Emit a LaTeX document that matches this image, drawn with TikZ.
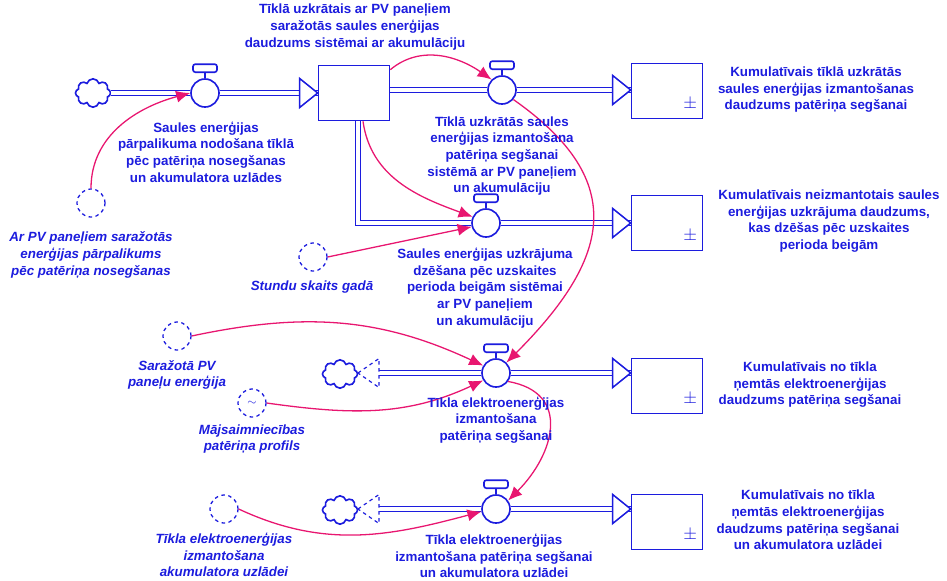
\documentclass[tikz,border=0pt]{standalone}
\usepackage{fontspec}
\setmainfont{Liberation Sans}
\usetikzlibrary{shapes.geometric, shapes.symbols, arrows.meta}
\usetikzlibrary{calc}
\definecolor{flowblue}{RGB}{28,28,222}
\definecolor{linkpink}{RGB}{232,22,112}
\newcommand{\lblsize}{\fontsize{11.4}{14.2}\selectfont}
\tikzstyle{stock} = [rectangle, minimum width=2.13cm, minimum height=1.65cm, draw=flowblue, line width=1.4pt, fill=white]
\tikzstyle{valve} = [circle, minimum size=0.84cm, inner sep=0pt, draw=flowblue, line width=1.4pt, fill=white]
\tikzstyle{aux} = [circle, minimum size=0.84cm, inner sep=0pt, draw=flowblue, line width=1.1pt, dashed, text=flowblue]
\tikzstyle{source} = [cloud, cloud puffs=8, aspect=1.4, minimum width=1.05cm, minimum height=0.85cm, inner sep=0pt, draw=flowblue, line width=1.4pt, fill=white]
\tikzstyle{flowlabel} = [text=flowblue, font=\bfseries\lblsize, align=center]
\tikzstyle{auxlabel} = [text=flowblue, font=\bfseries\itshape\lblsize, align=center]
\tikzstyle{pipe} = [draw=flowblue, line width=1.3pt, double=white, double distance=2.8pt]
\tikzstyle{head} = [draw=flowblue, line width=1.3pt, fill=white, line join=miter]
\tikzstyle{link} = [draw=linkpink, line width=1.1pt, -{Latex[length=4.2mm, width=3.6mm]}]

\begin{document}
\begin{tikzpicture}[x=0.03cm, y=-0.03cm]
        \useasboundingbox (0,0) rectangle (947,580);

        % stocks
        \node(s1) [stock] at (354, 93) {};
        \node(s2) [stock] at (667, 91) {};
        \node(s3) [stock] at (667, 223) {};
        \node(s4) [stock] at (667, 386) {};
        \node(s5) [stock] at (667, 522) {};
        \foreach \s in {s2, s3, s4, s5}
            \node(pm\s) [text=flowblue, scale=1.5] at ($(\s.south east)+(-13,-15)$) {$\pm$};

        % valves and clouds
        \node(v1) [valve] at (205, 93) {};
        \node(v2) [valve] at (502, 90) {};
        \node(v3) [valve] at (486, 223) {};
        \node(v4) [valve] at (496, 373) {};
        \node(v5) [valve] at (496, 509) {};
        \node(c1) [source] at (93, 93) {};
        \node(c4) [source] at (340, 374) {};
        \node(c5) [source] at (340, 510) {};

        % auxiliaries
        \node(a1) [aux] at (91, 203) {};
        \node(a2) [aux] at (313, 257) {};
        \node(a3) [aux] at (177, 336) {};
        \node(a4) [aux] at (252, 403) {$\sim$};
        \node(a5) [aux] at (224, 509) {};

        % pipes
        \coordinate(h1) at (s1.west);
        \coordinate(h2) at (s2.west |- v2);
        \coordinate(h3) at (s3.west |- v3);
        \coordinate(h4) at (s4.west |- v4);
        \coordinate(h5) at (s5.west |- v5);
        \coordinate(t4) at (358, 373);
        \coordinate(t5) at (358, 509);

        \draw[pipe] (c1) -- (v1);
        \draw[pipe] (v1) -- (h1);
        \draw[pipe] (s1.east |- v2) -- (v2);
        \draw[pipe] (v2) -- (h2);
        \draw[pipe] ($(s1.south)+(4,0)$) |- (v3);
        \draw[pipe] (v3) -- (h3);
        \draw[pipe] (v4) -- (h4);
        \draw[pipe] (v5) -- (h5);
        \draw[pipe] (v4) -- ($(t4)+(21,0)$);
        \draw[pipe] (v5) -- ($(t5)+(21,0)$);

        \foreach \h in {h1, h2, h3, h4, h5}
            \draw[head] (\h) -- ++(-18,-14.5) -- ++(0,29) -- cycle;
        \foreach \t in {t4, t5}
            \draw[head, dashed, line width=1pt] (\t) -- ++(21,-14.5) -- ++(0,29) -- cycle;

        % valve handles
        \foreach \v in {v1, v2, v3, v4, v5} {
            \draw[draw=flowblue, line width=1.4pt] (\v.north) -- ++(0,-6);
            \draw[draw=flowblue, line width=1.4pt, fill=white, rounded corners=2pt]
                ($(\v.north)+(-12,-6)$) rectangle ++(24,-8);
        }

        % links
        \draw[link] (a1.north) to[out=90, in=195] (v1.west);
        \draw[link] ($(s1.north east)+(0,5)$) to[out=40, in=145] (v2.135);
        \draw[link] ($(s1.south)+(9,0)$) to[out=-82, in=160] (v3.155);
        \draw[link] (a2.east) -- (v3.195);
        \draw[link] (v2.-40) to[out=-35, in=45, looseness=1.4] (v4.45);
        \draw[link] (a3.east) to[out=12, in=155] (v4.150);
        \draw[link] (a4.east) to[out=-8, in=205] (v4.210);
        \draw[link] (v4.-35) to[out=-10, in=45, looseness=1.4] (v5.35);
        \draw[link] (a5.east) to[out=-25, in=195] (v5.190);

        % labels
        \node(ls1) [flowlabel] at (355, 27) {Tīklā uzkrātais ar PV paneļiem\\saražotās saules enerģijas\\daudzums sistēmai ar akumulāciju};
        \node(lv1) [flowlabel] at (206, 152) {Saules enerģijas\\pārpalikuma nodošana tīklā\\pēc patēriņa nosegšanas\\un akumulatora uzlādes};
        \node(lv2) [flowlabel] at (502, 156) {Tīklā uzkrātās saules\\enerģijas izmantošana\\patēriņa segšanai\\sistēmā ar PV paneļiem\\un akumulāciju};
        \node(lv3) [flowlabel] at (485, 288) {Saules enerģijas uzkrājuma\\dzēšana pēc uzskaites\\perioda beigām sistēmai\\ar PV paneļiem\\un akumulāciju};
        \node(lv4) [flowlabel] at (496, 420) {Tīkla elektroenerģijas\\izmantošana\\patēriņa segšanai};
        \node(lv5) [flowlabel] at (494, 556) {Tīkla elektroenerģijas\\izmantošana patēriņa segšanai\\un akumulatora uzlādei};

        \node(ls2) [flowlabel] at (816, 90) {Kumulatīvais tīklā uzkrātās\\saules enerģijas izmantošanas\\daudzums patēriņa segšanai};
        \node(ls3) [flowlabel] at (829, 221) {Kumulatīvais neizmantotais saules\\enerģijas uzkrājuma daudzums,\\kas dzēšas pēc uzskaites\\perioda beigām};
        \node(ls4) [flowlabel] at (810, 385) {Kumulatīvais no tīkla\\ņemtās elektroenerģijas\\daudzums patēriņa segšanai};
        \node(ls5) [flowlabel] at (808, 520) {Kumulatīvais no tīkla\\ņemtās elektroenerģijas\\daudzums patēriņa segšanai\\un akumulatora uzlādei};

        \node(la1) [auxlabel] at (91, 255) {Ar PV paneļiem saražotās\\enerģijas pārpalikums\\pēc patēriņa nosegšanas};
        \node(la2) [auxlabel] at (312, 287) {Stundu skaits gadā};
        \node(la3) [auxlabel] at (177, 375) {Saražotā PV\\paneļu enerģija};
        \node(la4) [auxlabel] at (252, 439) {Mājsaimniecības\\patēriņa profils};
        \node(la5) [auxlabel] at (224, 555) {Tīkla elektroenerģijas\\izmantošana\\akumulatora uzlādei};
    \end{tikzpicture}
\end{document}
